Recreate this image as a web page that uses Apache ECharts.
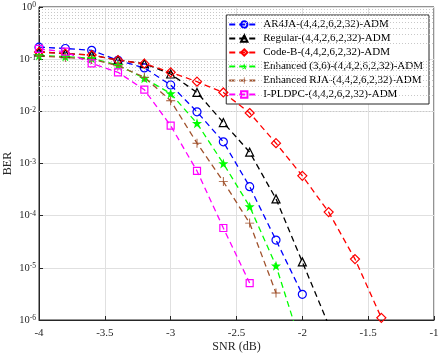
<!DOCTYPE html>
<html>
<head>
<meta charset="utf-8">
<script src="https://cdn.jsdelivr.net/npm/echarts@6/dist/echarts.min.js"></script>
<style>
	html, body { margin: 0; padding: 0; background: #fff; }
	#chart { width: 443px; height: 354px; }
</style>
</head>
<body>
<div id="chart"></div>
<script>
	// SNR points (dB), step 0.2
	var snr = [-4, -3.8, -3.6, -3.4, -3.2, -3.0, -2.8, -2.6, -2.4, -2.2, -2.0, -1.8, -1.6, -1.4];

	// BER
	var ar4ja = [0.17, 0.16, 0.148, 0.095, 0.068, 0.032, 0.0098, 0.0026, 3.6e-4, 3.4e-5, 3.1e-6];
	var regular = [0.138, 0.128, 0.12, 0.096, 0.082, 0.052, 0.023, 6.1e-3, 1.65e-3, 2.1e-4, 1.3e-5, 8e-7];
	var codeB = [0.137, 0.128, 0.12, 0.096, 0.082, 0.056, 0.037, 0.023, 9.3e-3, 2.45e-3, 5.8e-4, 1.17e-4, 1.47e-5, 1.1e-6];
	var enh36 = [0.118, 0.112, 0.104, 0.077, 0.043, 0.022, 5.9e-3, 1.0e-3, 1.5e-4, 1.1e-5, 2.8e-7];
	var enhRJA = [0.115, 0.108, 0.1, 0.075, 0.045, 0.016, 2.45e-3, 4.5e-4, 7.2e-5, 3.3e-6];
	var ipldpc = [0.157, 0.139, 0.083, 0.056, 0.026, 5.3e-3, 7.2e-4, 5.8e-5, 5.1e-6];

	var names = [
		'AR4JA-(4,4,2,6,2,32)-ADM',
		'Regular-(4,4,2,6,2,32)-ADM',
		'Code-B-(4,4,2,6,2,32)-ADM',
		'Enhanced (3,6)-(4,4,2,6,2,32)-ADM',
		'Enhanced RJA-(4,4,2,6,2,32)-ADM',
		'I-PLDPC-(4,4,2,6,2,32)-ADM'
	];

	var FONT = '"Liberation Serif", "Times New Roman", serif';
	var STAR = 'path://M0,-10 L2.35,-3.24 L9.51,-3.09 L3.8,1.24 L5.88,8.09 L0,4 L-5.88,8.09 L-3.8,1.24 L-9.51,-3.09 L-2.35,-3.24Z';
	var PLUS = 'path://M-1,-10 L1,-10 L1,-1 L10,-1 L10,1 L1,1 L1,10 L-1,10 L-1,1 L-10,1 L-10,-1 L-1,-1Z';

	function pairs(ys) {
		var out = [];
		for (var i = 0; i < ys.length; i++) {
			out.push([snr[i], ys[i]]);
		}
		return out;
	}

	function makeSeries(name, ys, color, symbol, size, filled) {
		return {
			name: name,
			type: 'line',
			data: pairs(ys),
			symbol: symbol,
			symbolSize: size,
			showAllSymbol: true,
			clip: true,
			color: color,
			lineStyle: { color: color, width: 1.3, type: [6, 4] },
			itemStyle: filled ?
				{ color: color, borderColor: color, borderWidth: 0 } :
				{ color: 'rgba(255,255,255,0)', borderColor: color, borderWidth: 1.2 },
			emphasis: { disabled: true },
			z: 5
		};
	}

	// minor log grid lines (2..9 x 10^k)
	var minorLines = [];
	for (var k = -6; k < 0; k++) {
		for (var m = 2; m <= 9; m++) {
			minorLines.push({ yAxis: m * Math.pow(10, k) });
		}
	}

	var chart = echarts.init(document.getElementById('chart'));
	var option = {
		animation: false,
		textStyle: { fontFamily: FONT },
		grid: {
			left: 39, right: 9, top: 7, bottom: 34,
			outerBoundsMode: 'none',
			containLabel: false,
			show: true, borderColor: '#262626', borderWidth: 1, backgroundColor: '#fff'
		},
		legend: {
			orient: 'vertical',
			top: 15,
			right: 14,
			backgroundColor: '#fff',
			borderColor: '#262626',
			borderWidth: 1,
			borderRadius: 0,
			padding: [4, 6, 4, 2],
			itemWidth: 30,
			itemHeight: 8,
			itemGap: 3,
			textStyle: { fontFamily: FONT, fontSize: 11, color: '#000', padding: [0, 0, 0, -1] },
			data: names
		},
		xAxis: {
			type: 'value',
			min: -4,
			max: -1,
			interval: 0.5,
			name: 'SNR (dB)',
			nameLocation: 'middle',
			nameGap: 21,
			nameMoveOverlap: false,
			nameTextStyle: { fontFamily: FONT, fontSize: 12, color: '#262626' },
			axisLine: { lineStyle: { color: '#262626' } },
			axisTick: { inside: true, length: 4, lineStyle: { color: '#262626' } },
			axisLabel: {
				fontFamily: FONT, fontSize: 11, color: '#262626', margin: 8,
				formatter: function (v) { return String(v); }
			},
			splitLine: { show: true, lineStyle: { color: '#e0e0e0', width: 1 } }
		},
		yAxis: {
			type: 'log',
			logBase: 10,
			min: 1e-6,
			max: 1,
			name: 'BER',
			nameLocation: 'middle',
			nameGap: 25,
			nameMoveOverlap: false,
			nameTextStyle: { fontFamily: FONT, fontSize: 12, color: '#262626' },
			axisLine: { lineStyle: { color: '#262626' } },
			axisTick: { inside: true, length: 4, lineStyle: { color: '#262626' } },
			axisLabel: {
				color: '#262626',
				margin: 3,
				formatter: function (v) {
					var e = Math.round(Math.log(v) / Math.LN10);
					return '{b|10}{s|' + e + '}';
				},
				rich: {
					b: { fontFamily: FONT, fontSize: 10.5, color: '#262626', verticalAlign: 'bottom', lineHeight: 11, padding: [6, 0, 0, 0] },
					s: { fontFamily: FONT, fontSize: 7.5, color: '#262626', verticalAlign: 'top', lineHeight: 8 }
				}
			},
			splitLine: { show: true, lineStyle: { color: '#e0e0e0', width: 1 } }
		},
		series: [
			{
				name: 'minorGrid',
				type: 'line',
				data: [],
				silent: true,
				markLine: {
					silent: true,
					symbol: ['none', 'none'],
					label: { show: false },
					lineStyle: { color: '#c8c8c8', type: [1, 2], width: 1 },
					emphasis: { disabled: true },
					data: minorLines
				},
				z: 1
			},
			makeSeries(names[0], ar4ja, '#0000ff', 'circle', 8, false),
			makeSeries(names[1], regular, '#000000', 'triangle', 8, false),
			makeSeries(names[2], codeB, '#ff0000', 'diamond', 9, false),
			makeSeries(names[3], enh36, '#00ff00', STAR, 10, true),
			makeSeries(names[4], enhRJA, '#a0522d', PLUS, 9, true),
			makeSeries(names[5], ipldpc, '#ff00ff', 'rect', 7, false)
		]
	};
	chart.setOption(option);
</script>
</body>
</html>
